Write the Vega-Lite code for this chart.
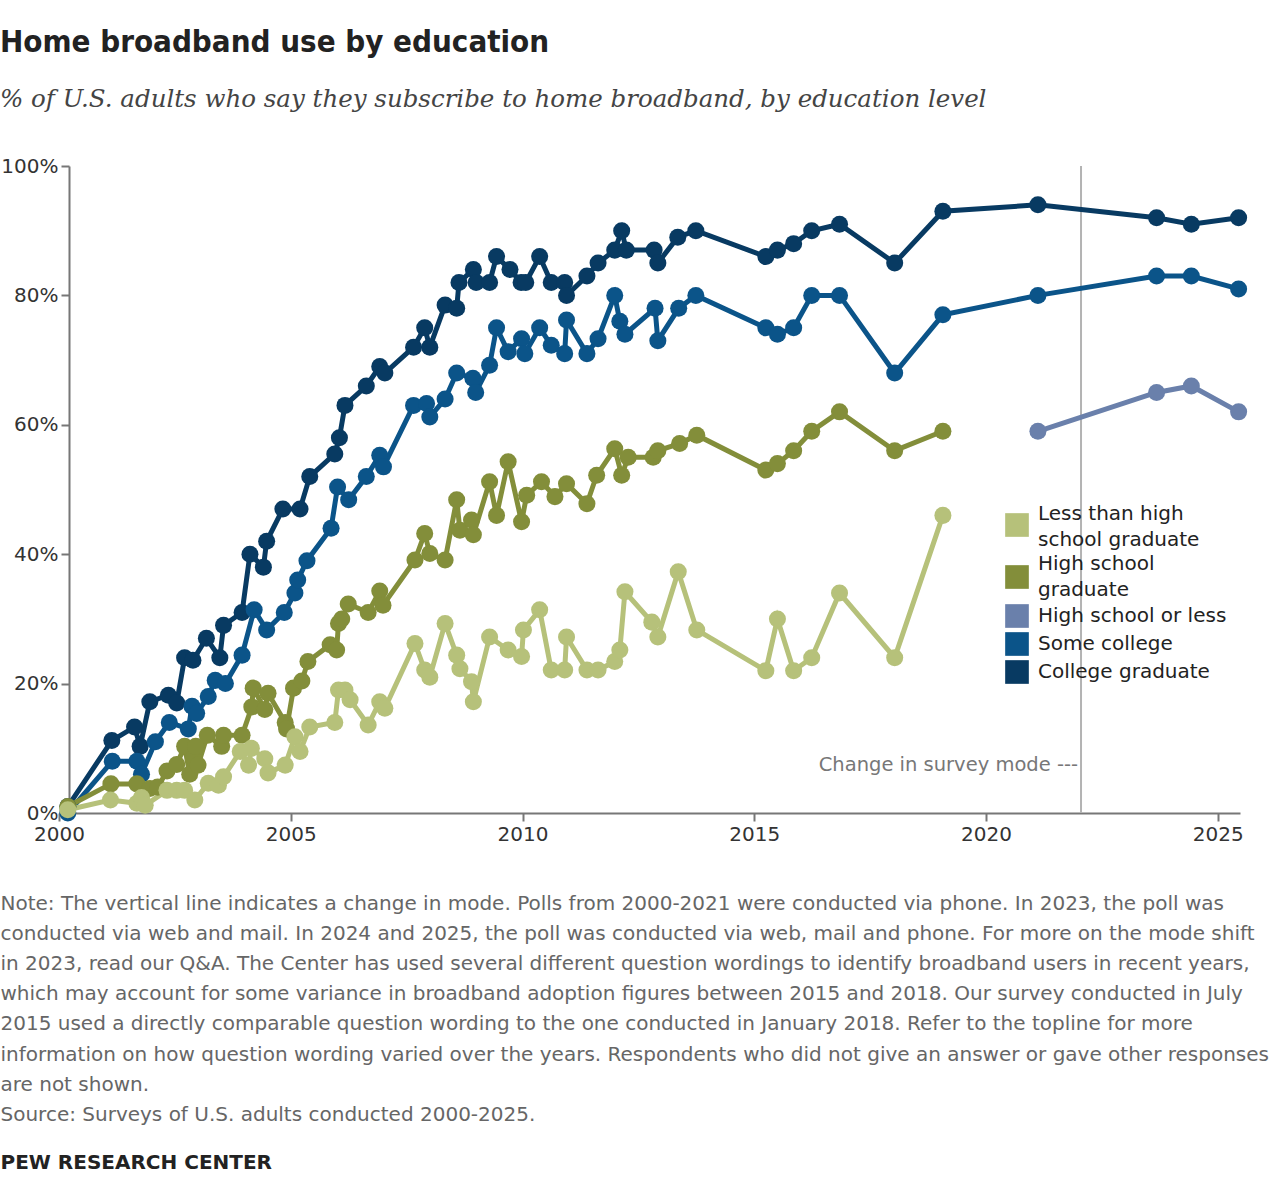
{
  "$schema": "https://vega.github.io/schema/vega-lite/v6.json",
  "width": 1181,
  "height": 647,
  "autosize": {"type": "none"},
  "padding": {"left": 59, "top": 166, "right": 40, "bottom": 383},
  "background": "white",
  "title": {
    "text": "Home broadband use by education",
    "subtitle": "% of U.S. adults who say they subscribe to home broadband, by education level",
    "anchor": "start",
    "frame": "group",
    "dx": -59,
    "offset": 44,
    "font": "Liberation Sans Narrow, DejaVu Sans Condensed, sans-serif",
    "fontSize": 31,
    "fontWeight": "bold",
    "color": "#222222",
    "subtitleFont": "DejaVu Serif",
    "subtitleFontStyle": "italic",
    "subtitleFontSize": 24.5,
    "subtitleColor": "#444444",
    "subtitlePadding": 29
  },
  "datasets": {
    "edu": [
      {"group": "College graduate", "year": 2000.19, "pct": 1},
      {"group": "College graduate", "year": 2001.14, "pct": 11.2},
      {"group": "College graduate", "year": 2001.63, "pct": 13.3},
      {"group": "College graduate", "year": 2001.75, "pct": 10.3},
      {"group": "College graduate", "year": 2001.96, "pct": 17.2},
      {"group": "College graduate", "year": 2002.36, "pct": 18.2},
      {"group": "College graduate", "year": 2002.54, "pct": 17},
      {"group": "College graduate", "year": 2002.71, "pct": 24},
      {"group": "College graduate", "year": 2002.89, "pct": 23.6},
      {"group": "College graduate", "year": 2003.18, "pct": 27},
      {"group": "College graduate", "year": 2003.47, "pct": 24},
      {"group": "College graduate", "year": 2003.55, "pct": 29},
      {"group": "College graduate", "year": 2003.95, "pct": 31},
      {"group": "College graduate", "year": 2004.12, "pct": 40},
      {"group": "College graduate", "year": 2004.41, "pct": 38},
      {"group": "College graduate", "year": 2004.48, "pct": 42},
      {"group": "College graduate", "year": 2004.83, "pct": 47},
      {"group": "College graduate", "year": 2005.2, "pct": 47},
      {"group": "College graduate", "year": 2005.41, "pct": 52},
      {"group": "College graduate", "year": 2005.95, "pct": 55.5},
      {"group": "College graduate", "year": 2006.05, "pct": 58},
      {"group": "College graduate", "year": 2006.17, "pct": 63},
      {"group": "College graduate", "year": 2006.63, "pct": 66},
      {"group": "College graduate", "year": 2006.92, "pct": 69},
      {"group": "College graduate", "year": 2007.03, "pct": 68},
      {"group": "College graduate", "year": 2007.65, "pct": 72},
      {"group": "College graduate", "year": 2007.89, "pct": 75},
      {"group": "College graduate", "year": 2008.0, "pct": 72},
      {"group": "College graduate", "year": 2008.33, "pct": 78.5},
      {"group": "College graduate", "year": 2008.58, "pct": 78},
      {"group": "College graduate", "year": 2008.63, "pct": 82},
      {"group": "College graduate", "year": 2008.94, "pct": 84},
      {"group": "College graduate", "year": 2009.0, "pct": 82},
      {"group": "College graduate", "year": 2009.29, "pct": 82},
      {"group": "College graduate", "year": 2009.44, "pct": 86},
      {"group": "College graduate", "year": 2009.73, "pct": 84},
      {"group": "College graduate", "year": 2009.97, "pct": 82},
      {"group": "College graduate", "year": 2010.07, "pct": 82},
      {"group": "College graduate", "year": 2010.37, "pct": 86},
      {"group": "College graduate", "year": 2010.62, "pct": 82},
      {"group": "College graduate", "year": 2010.91, "pct": 82},
      {"group": "College graduate", "year": 2010.95, "pct": 80},
      {"group": "College graduate", "year": 2011.39, "pct": 83},
      {"group": "College graduate", "year": 2011.63, "pct": 85},
      {"group": "College graduate", "year": 2011.99, "pct": 87},
      {"group": "College graduate", "year": 2012.14, "pct": 90},
      {"group": "College graduate", "year": 2012.24, "pct": 87},
      {"group": "College graduate", "year": 2012.84, "pct": 87},
      {"group": "College graduate", "year": 2012.92, "pct": 85},
      {"group": "College graduate", "year": 2013.35, "pct": 89},
      {"group": "College graduate", "year": 2013.74, "pct": 90},
      {"group": "College graduate", "year": 2015.25, "pct": 86},
      {"group": "College graduate", "year": 2015.5, "pct": 87},
      {"group": "College graduate", "year": 2015.85, "pct": 88},
      {"group": "College graduate", "year": 2016.24, "pct": 90},
      {"group": "College graduate", "year": 2016.84, "pct": 91},
      {"group": "College graduate", "year": 2018.03, "pct": 85},
      {"group": "College graduate", "year": 2019.07, "pct": 93},
      {"group": "College graduate", "year": 2021.12, "pct": 94},
      {"group": "College graduate", "year": 2023.68, "pct": 92},
      {"group": "College graduate", "year": 2024.43, "pct": 91},
      {"group": "College graduate", "year": 2025.45, "pct": 92},

      {"group": "Some college", "year": 2000.19, "pct": 0},
      {"group": "Some college", "year": 2001.15, "pct": 8},
      {"group": "Some college", "year": 2001.68, "pct": 8},
      {"group": "Some college", "year": 2001.78, "pct": 6},
      {"group": "Some college", "year": 2002.08, "pct": 11},
      {"group": "Some college", "year": 2002.38, "pct": 14},
      {"group": "Some college", "year": 2002.79, "pct": 13},
      {"group": "Some college", "year": 2002.87, "pct": 16.5},
      {"group": "Some college", "year": 2002.97, "pct": 15.4},
      {"group": "Some college", "year": 2003.22, "pct": 18},
      {"group": "Some college", "year": 2003.37, "pct": 20.5},
      {"group": "Some college", "year": 2003.59, "pct": 20},
      {"group": "Some college", "year": 2003.95, "pct": 24.4},
      {"group": "Some college", "year": 2004.21, "pct": 31.4},
      {"group": "Some college", "year": 2004.48, "pct": 28.3},
      {"group": "Some college", "year": 2004.86, "pct": 31},
      {"group": "Some college", "year": 2005.09, "pct": 34},
      {"group": "Some college", "year": 2005.15, "pct": 36},
      {"group": "Some college", "year": 2005.35, "pct": 39},
      {"group": "Some college", "year": 2005.87, "pct": 44},
      {"group": "Some college", "year": 2006.01, "pct": 50.4},
      {"group": "Some college", "year": 2006.25, "pct": 48.4},
      {"group": "Some college", "year": 2006.63, "pct": 52},
      {"group": "Some college", "year": 2006.92, "pct": 55.3},
      {"group": "Some college", "year": 2007.0, "pct": 53.5},
      {"group": "Some college", "year": 2007.65, "pct": 63},
      {"group": "Some college", "year": 2007.93, "pct": 63.3},
      {"group": "Some college", "year": 2008.0, "pct": 61.2},
      {"group": "Some college", "year": 2008.33, "pct": 64},
      {"group": "Some college", "year": 2008.58, "pct": 68},
      {"group": "Some college", "year": 2008.93, "pct": 67.2},
      {"group": "Some college", "year": 2008.99, "pct": 65},
      {"group": "Some college", "year": 2009.29, "pct": 69.2},
      {"group": "Some college", "year": 2009.44, "pct": 75},
      {"group": "Some college", "year": 2009.69, "pct": 71.3},
      {"group": "Some college", "year": 2009.98, "pct": 73.3},
      {"group": "Some college", "year": 2010.05, "pct": 71},
      {"group": "Some college", "year": 2010.37, "pct": 75},
      {"group": "Some college", "year": 2010.62, "pct": 72.3},
      {"group": "Some college", "year": 2010.91, "pct": 71},
      {"group": "Some college", "year": 2010.95, "pct": 76.2},
      {"group": "Some college", "year": 2011.39, "pct": 71},
      {"group": "Some college", "year": 2011.63, "pct": 73.3},
      {"group": "Some college", "year": 2011.99, "pct": 80},
      {"group": "Some college", "year": 2012.1, "pct": 76},
      {"group": "Some college", "year": 2012.21, "pct": 74},
      {"group": "Some college", "year": 2012.86, "pct": 78},
      {"group": "Some college", "year": 2012.92, "pct": 73},
      {"group": "Some college", "year": 2013.37, "pct": 78},
      {"group": "Some college", "year": 2013.74, "pct": 80},
      {"group": "Some college", "year": 2015.25, "pct": 75},
      {"group": "Some college", "year": 2015.5, "pct": 74},
      {"group": "Some college", "year": 2015.85, "pct": 75},
      {"group": "Some college", "year": 2016.24, "pct": 80},
      {"group": "Some college", "year": 2016.84, "pct": 80},
      {"group": "Some college", "year": 2018.03, "pct": 68},
      {"group": "Some college", "year": 2019.07, "pct": 77},
      {"group": "Some college", "year": 2021.12, "pct": 80},
      {"group": "Some college", "year": 2023.68, "pct": 83},
      {"group": "Some college", "year": 2024.43, "pct": 83},
      {"group": "Some college", "year": 2025.45, "pct": 81},

      {"group": "High school graduate", "year": 2000.19, "pct": 1},
      {"group": "High school graduate", "year": 2001.12, "pct": 4.5},
      {"group": "High school graduate", "year": 2001.68, "pct": 4.5},
      {"group": "High school graduate", "year": 2001.96, "pct": 3.8},
      {"group": "High school graduate", "year": 2002.13, "pct": 4},
      {"group": "High school graduate", "year": 2002.33, "pct": 6.5},
      {"group": "High school graduate", "year": 2002.54, "pct": 7.5},
      {"group": "High school graduate", "year": 2002.71, "pct": 10.3},
      {"group": "High school graduate", "year": 2002.82, "pct": 6},
      {"group": "High school graduate", "year": 2002.9, "pct": 8.5},
      {"group": "High school graduate", "year": 2002.95, "pct": 10.3},
      {"group": "High school graduate", "year": 2003.0, "pct": 7.4},
      {"group": "High school graduate", "year": 2003.2, "pct": 12},
      {"group": "High school graduate", "year": 2003.51, "pct": 10.3},
      {"group": "High school graduate", "year": 2003.55, "pct": 12},
      {"group": "High school graduate", "year": 2003.95, "pct": 12},
      {"group": "High school graduate", "year": 2004.16, "pct": 16.4},
      {"group": "High school graduate", "year": 2004.19, "pct": 19.3},
      {"group": "High school graduate", "year": 2004.44, "pct": 16},
      {"group": "High school graduate", "year": 2004.51, "pct": 18.5},
      {"group": "High school graduate", "year": 2004.88, "pct": 14},
      {"group": "High school graduate", "year": 2004.91, "pct": 13},
      {"group": "High school graduate", "year": 2005.06, "pct": 19.3},
      {"group": "High school graduate", "year": 2005.24, "pct": 20.4},
      {"group": "High school graduate", "year": 2005.37, "pct": 23.4},
      {"group": "High school graduate", "year": 2005.85, "pct": 26},
      {"group": "High school graduate", "year": 2005.99, "pct": 25.2},
      {"group": "High school graduate", "year": 2006.03, "pct": 29.3},
      {"group": "High school graduate", "year": 2006.1, "pct": 30},
      {"group": "High school graduate", "year": 2006.24, "pct": 32.3},
      {"group": "High school graduate", "year": 2006.67, "pct": 31},
      {"group": "High school graduate", "year": 2006.92, "pct": 34.3},
      {"group": "High school graduate", "year": 2006.99, "pct": 32.1},
      {"group": "High school graduate", "year": 2007.68, "pct": 39.1},
      {"group": "High school graduate", "year": 2007.89, "pct": 43.2},
      {"group": "High school graduate", "year": 2008.0, "pct": 40.1},
      {"group": "High school graduate", "year": 2008.33, "pct": 39.1},
      {"group": "High school graduate", "year": 2008.58, "pct": 48.4},
      {"group": "High school graduate", "year": 2008.65, "pct": 43.7},
      {"group": "High school graduate", "year": 2008.9, "pct": 45.3},
      {"group": "High school graduate", "year": 2008.94, "pct": 43},
      {"group": "High school graduate", "year": 2009.29, "pct": 51.2},
      {"group": "High school graduate", "year": 2009.44, "pct": 46},
      {"group": "High school graduate", "year": 2009.69, "pct": 54.3},
      {"group": "High school graduate", "year": 2009.98, "pct": 45},
      {"group": "High school graduate", "year": 2010.09, "pct": 49.1},
      {"group": "High school graduate", "year": 2010.41, "pct": 51.2},
      {"group": "High school graduate", "year": 2010.7, "pct": 48.9},
      {"group": "High school graduate", "year": 2010.95, "pct": 50.9},
      {"group": "High school graduate", "year": 2011.39, "pct": 47.8},
      {"group": "High school graduate", "year": 2011.6, "pct": 52.2},
      {"group": "High school graduate", "year": 2011.99, "pct": 56.3},
      {"group": "High school graduate", "year": 2012.14, "pct": 52.2},
      {"group": "High school graduate", "year": 2012.28, "pct": 55},
      {"group": "High school graduate", "year": 2012.82, "pct": 55},
      {"group": "High school graduate", "year": 2012.92, "pct": 56},
      {"group": "High school graduate", "year": 2013.39, "pct": 57.1},
      {"group": "High school graduate", "year": 2013.76, "pct": 58.4},
      {"group": "High school graduate", "year": 2015.25, "pct": 53},
      {"group": "High school graduate", "year": 2015.5, "pct": 54},
      {"group": "High school graduate", "year": 2015.85, "pct": 56},
      {"group": "High school graduate", "year": 2016.24, "pct": 59},
      {"group": "High school graduate", "year": 2016.84, "pct": 62},
      {"group": "High school graduate", "year": 2018.03, "pct": 56},
      {"group": "High school graduate", "year": 2019.07, "pct": 59},

      {"group": "Less than high school graduate", "year": 2000.19, "pct": 0.5},
      {"group": "Less than high school graduate", "year": 2001.11, "pct": 2},
      {"group": "Less than high school graduate", "year": 2001.68, "pct": 1.5},
      {"group": "Less than high school graduate", "year": 2001.78, "pct": 2.4},
      {"group": "Less than high school graduate", "year": 2001.86, "pct": 1.2},
      {"group": "Less than high school graduate", "year": 2002.33, "pct": 3.5},
      {"group": "Less than high school graduate", "year": 2002.54, "pct": 3.5},
      {"group": "Less than high school graduate", "year": 2002.71, "pct": 3.5},
      {"group": "Less than high school graduate", "year": 2002.93, "pct": 2},
      {"group": "Less than high school graduate", "year": 2003.22, "pct": 4.6},
      {"group": "Less than high school graduate", "year": 2003.44, "pct": 4.3},
      {"group": "Less than high school graduate", "year": 2003.55, "pct": 5.6},
      {"group": "Less than high school graduate", "year": 2003.91, "pct": 9.5},
      {"group": "Less than high school graduate", "year": 2004.09, "pct": 7.4},
      {"group": "Less than high school graduate", "year": 2004.15, "pct": 10},
      {"group": "Less than high school graduate", "year": 2004.44, "pct": 8.4},
      {"group": "Less than high school graduate", "year": 2004.51, "pct": 6.2},
      {"group": "Less than high school graduate", "year": 2004.88, "pct": 7.4},
      {"group": "Less than high school graduate", "year": 2005.09, "pct": 11.8},
      {"group": "Less than high school graduate", "year": 2005.2, "pct": 9.5},
      {"group": "Less than high school graduate", "year": 2005.41, "pct": 13.3},
      {"group": "Less than high school graduate", "year": 2005.95, "pct": 14},
      {"group": "Less than high school graduate", "year": 2006.03, "pct": 19},
      {"group": "Less than high school graduate", "year": 2006.17, "pct": 19},
      {"group": "Less than high school graduate", "year": 2006.28, "pct": 17.5},
      {"group": "Less than high school graduate", "year": 2006.67, "pct": 13.6},
      {"group": "Less than high school graduate", "year": 2006.92, "pct": 17.2},
      {"group": "Less than high school graduate", "year": 2007.03, "pct": 16.2},
      {"group": "Less than high school graduate", "year": 2007.68, "pct": 26.2},
      {"group": "Less than high school graduate", "year": 2007.89, "pct": 22.1},
      {"group": "Less than high school graduate", "year": 2008.0, "pct": 21},
      {"group": "Less than high school graduate", "year": 2008.33, "pct": 29.3},
      {"group": "Less than high school graduate", "year": 2008.58, "pct": 24.4},
      {"group": "Less than high school graduate", "year": 2008.65, "pct": 22.3},
      {"group": "Less than high school graduate", "year": 2008.9, "pct": 20.3},
      {"group": "Less than high school graduate", "year": 2008.94, "pct": 17.2},
      {"group": "Less than high school graduate", "year": 2009.29, "pct": 27.2},
      {"group": "Less than high school graduate", "year": 2009.69, "pct": 25.2},
      {"group": "Less than high school graduate", "year": 2009.98, "pct": 24.2},
      {"group": "Less than high school graduate", "year": 2010.02, "pct": 28.3},
      {"group": "Less than high school graduate", "year": 2010.37, "pct": 31.4},
      {"group": "Less than high school graduate", "year": 2010.62, "pct": 22.1},
      {"group": "Less than high school graduate", "year": 2010.91, "pct": 22.1},
      {"group": "Less than high school graduate", "year": 2010.95, "pct": 27.2},
      {"group": "Less than high school graduate", "year": 2011.39, "pct": 22.1},
      {"group": "Less than high school graduate", "year": 2011.63, "pct": 22.1},
      {"group": "Less than high school graduate", "year": 2011.99, "pct": 23.4},
      {"group": "Less than high school graduate", "year": 2012.1, "pct": 25.2},
      {"group": "Less than high school graduate", "year": 2012.21, "pct": 34.2},
      {"group": "Less than high school graduate", "year": 2012.79, "pct": 29.5},
      {"group": "Less than high school graduate", "year": 2012.92, "pct": 27.2},
      {"group": "Less than high school graduate", "year": 2013.36, "pct": 37.3},
      {"group": "Less than high school graduate", "year": 2013.76, "pct": 28.3},
      {"group": "Less than high school graduate", "year": 2015.25, "pct": 22},
      {"group": "Less than high school graduate", "year": 2015.5, "pct": 30},
      {"group": "Less than high school graduate", "year": 2015.85, "pct": 22},
      {"group": "Less than high school graduate", "year": 2016.24, "pct": 24},
      {"group": "Less than high school graduate", "year": 2016.84, "pct": 34},
      {"group": "Less than high school graduate", "year": 2018.03, "pct": 24},
      {"group": "Less than high school graduate", "year": 2019.07, "pct": 46},

      {"group": "High school or less", "year": 2021.12, "pct": 59},
      {"group": "High school or less", "year": 2023.68, "pct": 65},
      {"group": "High school or less", "year": 2024.43, "pct": 66},
      {"group": "High school or less", "year": 2025.45, "pct": 62}
    ]
  },
  "layer": [
    {
      "data": {"values": [{"year": 2022.05}]},
      "mark": {"type": "rule", "color": "#b3b3b3", "strokeWidth": 2},
      "encoding": {
        "x": {"field": "year", "type": "quantitative"}
      }
    },
    {
      "data": {"values": [{"year": 2022.05, "pct": 7.4, "label": "Change in survey mode ---"}]},
      "mark": {"type": "text", "align": "right", "baseline": "middle", "dx": -3, "fontSize": 19.5, "font": "DejaVu Sans", "color": "#777777"},
      "encoding": {
        "x": {"field": "year", "type": "quantitative"},
        "y": {"field": "pct", "type": "quantitative"},
        "text": {"field": "label"}
      }
    },
    {
      "data": {"name": "edu"},
      "mark": {"type": "line", "strokeWidth": 5, "point": {"filled": true, "size": 290, "opacity": 1}},
      "encoding": {
        "x": {
          "field": "year",
          "type": "quantitative",
          "scale": {"domain": [2000, 2025.48], "nice": false, "zero": false},
          "axis": {
            "values": [2000, 2005, 2010, 2015, 2020, 2025],
            "format": "d",
            "labelFlush": false,
            "title": [
              "Note: The vertical line indicates a change in mode. Polls from 2000-2021 were conducted via phone. In 2023, the poll was",
              "conducted via web and mail. In 2024 and 2025, the poll was conducted via web, mail and phone. For more on the mode shift",
              "in 2023, read our Q&A. The Center has used several different question wordings to identify broadband users in recent years,",
              "which may account for some variance in broadband adoption figures between 2015 and 2018. Our survey conducted in July",
              "2015 used a directly comparable question wording to the one conducted in January 2018. Refer to the topline for more",
              "information on how question wording varied over the years. Respondents who did not give an answer or gave other responses",
              "are not shown.",
              "Source: Surveys of U.S. adults conducted 2000-2025."
            ],
            "titleAnchor": "start",
            "titleAlign": "left",
            "titleBaseline": "top",
            "titleX": -59,
            "titleY": 80,
            "titleLineHeight": 30.2,
            "titleFont": "DejaVu Sans",
            "titleFontSize": 20,
            "titleFontWeight": "normal",
            "titleColor": "#666666"
          }
        },
        "y": {
          "field": "pct",
          "type": "quantitative",
          "scale": {"domain": [0, 100], "nice": false},
          "axis": {
            "values": [0, 20, 40, 60, 80, 100],
            "offset": -10,
            "labelExpr": "datum.value + '%'",
            "title": "PEW RESEARCH CENTER",
            "titleAngle": 0,
            "titleX": -69,
            "titleY": 996,
            "titleAlign": "left",
            "titleBaseline": "middle",
            "titleFont": "DejaVu Sans",
            "titleFontSize": 20,
            "titleFontWeight": "bold",
            "titleColor": "#222222"
          }
        },
        "color": {
          "field": "group",
          "type": "nominal",
          "scale": {
            "domain": ["Less than high school graduate", "High school graduate", "High school or less", "Some college", "College graduate"],
            "range": ["#b6c17a", "#838e3a", "#6a80ab", "#0b5489", "#083a62"]
          },
          "legend": {
            "orient": "none",
            "legendX": 946,
            "legendY": 347,
            "title": null,
            "symbolType": "square",
            "symbolSize": 560,
            "symbolStrokeWidth": 0,
            "labelFont": "DejaVu Sans",
            "labelFontSize": 20,
            "labelColor": "#222222",
            "labelOffset": 9,
            "rowPadding": 4,
            "labelLimit": 300,
            "labelExpr": "datum.label == 'Less than high school graduate' ? ['Less than high', 'school graduate'] : datum.label == 'High school graduate' ? ['High school', 'graduate'] : datum.label",
            "encode": {
              "labels": {
                "update": {
                  "lineHeight": {"value": 26},
                  "dy": {"signal": "datum.value == 'Less than high school graduate' ? -11 : datum.value == 'High school graduate' ? -13 : 0"}
                }
              },
              "symbols": {
                "update": {
                  "fill": {"scale": "color", "field": "value"},
                  "stroke": {"value": "transparent"},
                  "shape": {"value": "square"}
                }
              }
            }
          }
        }
      }
    }
  ],
  "config": {
    "view": {"stroke": null},
    "font": "DejaVu Sans",
    "axis": {
      "grid": false,
      "domainColor": "#777777",
      "domainWidth": 2,
      "tickColor": "#777777",
      "tickWidth": 2,
      "tickSize": 8,
      "labelFont": "DejaVu Sans",
      "labelFontSize": 20,
      "labelColor": "#333333",
      "labelPadding": 3
    }
  }
}
